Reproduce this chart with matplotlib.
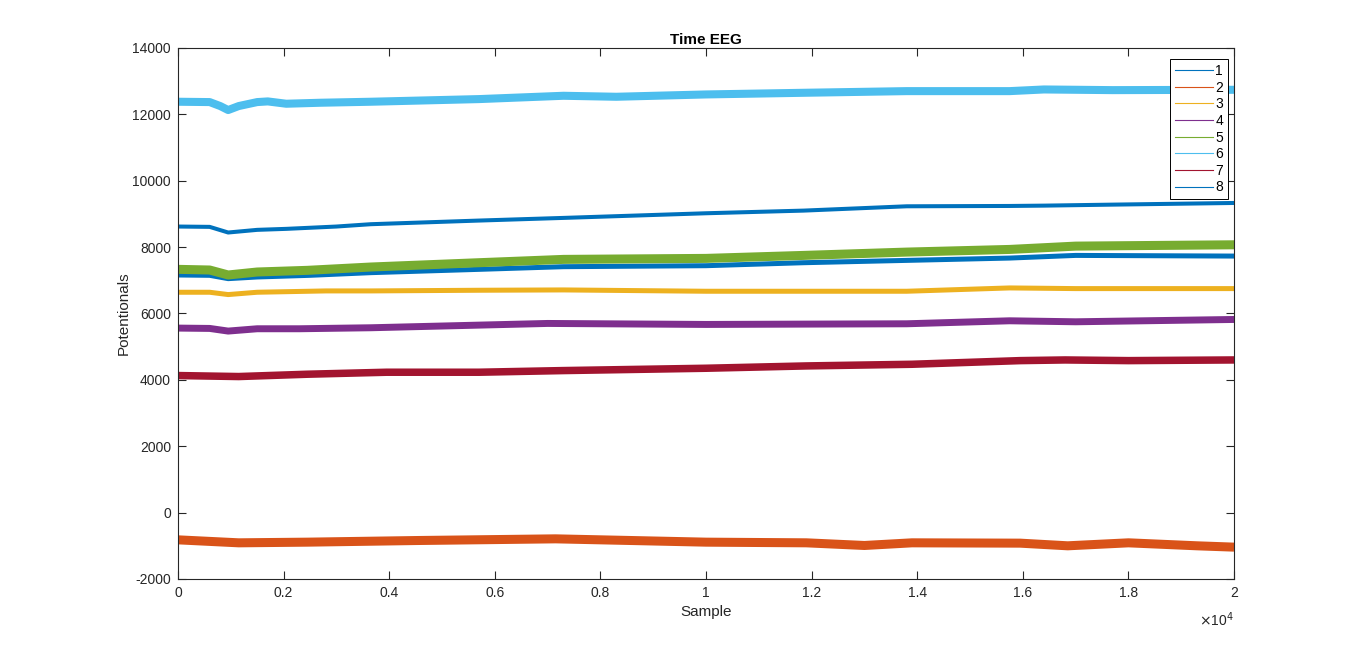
import matplotlib.pyplot as plt
from matplotlib.lines import Line2D

plt.rcParams['font.family'] = ['Liberation Sans', 'DejaVu Sans']
plt.rcParams['axes.unicode_minus'] = False

# key points (sample index, potential)
x_ch1 = [0, 600, 950, 1500, 2500, 3650, 5700, 7300, 10000, 11850, 13800, 15750, 17000, 20000]
y_ch1 = [7160, 7150, 7050, 7100, 7150, 7230, 7330, 7410, 7440, 7530, 7600, 7670, 7750, 7730]

x_ch2 = [0, 1150, 2450, 4550, 7150, 10000, 11900, 13000, 13900, 15950, 16850, 18000, 19300, 20000]
y_ch2 = [-820, -910, -890, -840, -790, -890, -910, -990, -910, -920, -1000, -910, -1000, -1040]

x_ch3 = [0, 600, 950, 1500, 2800, 3650, 5700, 7300, 10000, 11850, 13800, 15750, 17000, 20000]
y_ch3 = [6640, 6640, 6570, 6640, 6680, 6680, 6700, 6710, 6670, 6670, 6670, 6770, 6750, 6750]

x_ch4 = [0, 600, 950, 1500, 2300, 3650, 7000, 10000, 11850, 13800, 15750, 17000, 20000]
y_ch4 = [5560, 5550, 5470, 5540, 5540, 5570, 5700, 5670, 5680, 5690, 5780, 5750, 5820]

x_ch5 = [0, 600, 950, 1500, 2450, 3650, 5700, 7300, 10000, 11850, 13800, 15750, 17000, 20000]
y_ch5 = [7330, 7310, 7160, 7250, 7300, 7400, 7530, 7630, 7660, 7750, 7850, 7930, 8030, 8070]

x_ch6 = [0, 600, 800, 950, 1150, 1500, 1700, 2050, 2700, 3650, 5700, 7300, 8300, 10000,
         11850, 13800, 15750, 16400, 17700, 20000]
y_ch6 = [12380, 12370, 12250, 12130, 12250, 12370, 12390, 12320, 12350, 12380, 12460, 12560,
         12530, 12600, 12650, 12700, 12700, 12750, 12730, 12740]

x_ch7 = [0, 1150, 2450, 3950, 5700, 7300, 10000, 11900, 13900, 15950, 16800, 18000, 20000]
y_ch7 = [4130, 4100, 4170, 4230, 4230, 4280, 4350, 4420, 4470, 4580, 4600, 4580, 4600]

x_ch8 = [0, 600, 950, 1500, 2050, 3000, 3650, 5700, 7300, 10000, 11850, 13800, 15750, 16400,
         17700, 20000]
y_ch8 = [8620, 8610, 8440, 8520, 8550, 8620, 8690, 8800, 8880, 9020, 9100, 9230, 9240, 9250,
         9280, 9330]

channels = ['1', '2', '3', '4', '5', '6', '7', '8']
xs = [x_ch1, x_ch2, x_ch3, x_ch4, x_ch5, x_ch6, x_ch7, x_ch8]
ys = [y_ch1, y_ch2, y_ch3, y_ch4, y_ch5, y_ch6, y_ch7, y_ch8]

colors = ['#0072BD', '#D95319', '#EDB120', '#7E2F8E', '#77AC30', '#4DBEEE', '#A2142F', '#0072BD']
# noisy traces look like thick bands
widths = [3.6, 6.5, 3.6, 5.0, 6.5, 5.8, 5.4, 2.9]

fig = plt.figure(figsize=(13.66, 6.51), dpi=100)
ax = fig.add_axes([0.1303, 0.1106, 0.7731, 0.8157])

for x, y, c, w in zip(xs, ys, colors, widths):
    ax.plot(x, y, color=c, linewidth=w, solid_capstyle='butt', solid_joinstyle='round')

ax.set_xlim(0, 20000)
ax.set_ylim(-2000, 14000)
xticks = [0, 2000, 4000, 6000, 8000, 10000, 12000, 14000, 16000, 18000, 20000]
ax.set_xticks(xticks)
ax.set_xticklabels(['%g' % (t / 1e4) for t in xticks])
ax.set_yticks(range(-2000, 14001, 2000))

ax.tick_params(direction='in', top=True, right=True, length=6, width=0.8,
               labelsize=10, labelcolor='#262626', color='#262626', pad=5)
for s in ax.spines.values():
    s.set_linewidth(0.8)
    s.set_color('#262626')

ax.text(1.0, -0.06, r'$\times$10$^4$', transform=ax.transAxes, ha='right', va='top',
        fontsize=10, color='#262626')

ax.set_title('Time EEG', fontsize=11, fontweight='bold', color='black', pad=3)
ax.set_xlabel('Sample', fontsize=11, color='#262626', labelpad=4)
ax.set_ylabel('Potentionals', fontsize=11, color='#262626', labelpad=1)

handles = [Line2D([], [], color=c, linewidth=0.8) for c in colors]
leg = ax.legend(handles, channels, loc='upper right', bbox_to_anchor=(0.9945, 0.979),
                borderaxespad=0, fancybox=False, framealpha=1, edgecolor='black',
                fontsize=10, handlelength=2.7, handletextpad=0.2, labelspacing=0.19,
                borderpad=0.35)
leg.get_frame().set_linewidth(0.7)
leg.set_zorder(5)

fig.savefig('out.png', dpi=100)
